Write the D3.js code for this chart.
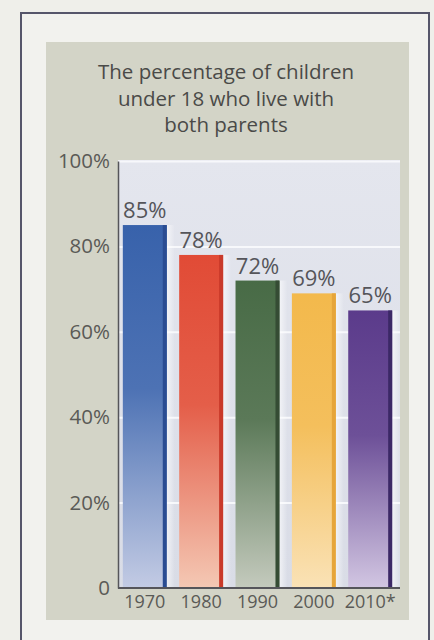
<!DOCTYPE html>
<html>
<head>
<meta charset="utf-8">
<script src="https://cdn.jsdelivr.net/npm/d3@7"></script>
<style>
  body { margin: 0; background: #efefea; }
  svg { display: block; }
  text { font-family: "Open Sans", "Noto Sans", sans-serif; }
</style>
</head>
<body>
<script>
var width = 434;
var height = 640;

// data
var years = ["1970", "1980", "1990", "2000", "2010*"];
var percents = [85, 78, 72, 69, 65];
var yTicks = [0, 20, 40, 60, 80, 100];
var titleLines = ["The percentage of children", "under 18 who live with", "both parents"];

var barTop = ["#3862ab", "#e14b36", "#486b46", "#f3b94c", "#5b3b8b"];
var barBottom = ["#c3cbe4", "#f4c8b4", "#c4cabd", "#fae2b6", "#d2c6e2"];
var barEdge = ["#2a4c92", "#c93a2a", "#354c34", "#e6a53a", "#3b2866"];

var svg = d3.select("body")
            .append("svg")
            .attr("width", width)
            .attr("height", height);

// outer frame and grey panel
svg.append("rect")
   .attr("x", 21).attr("y", 13)
   .attr("width", 408).attr("height", 640)
   .attr("fill", "#f2f2ee")
   .attr("stroke", "#56566a")
   .attr("stroke-width", 2);

svg.append("rect")
   .attr("x", 46).attr("y", 42)
   .attr("width", 363).attr("height", 578)
   .attr("fill", "#d3d4c7");

// title
svg.append("text")
   .attr("x", 226)
   .attr("y", 79)
   .attr("text-anchor", "middle")
   .attr("font-size", 20.5)
   .attr("fill", "#4a4a48")
   .selectAll("tspan")
   .data(titleLines)
   .enter()
   .append("tspan")
   .attr("x", 226)
   .attr("dy", function(d, i) { return i === 0 ? 0 : 26.5; })
   .text(function(d) { return d; });

var plotLeft = 118, plotRight = 400, plotTop = 160, plotBottom = 588;

var y = d3.scaleLinear()
          .domain([0, 100])
          .range([plotBottom, plotTop + 1]);

var x = d3.scaleBand()
          .domain(years)
          .range([120, 395])
          .paddingInner(0.22)
          .paddingOuter(0.05);

// plot background
var defs = svg.append("defs");
var bg = defs.append("linearGradient")
             .attr("id", "plotbg")
             .attr("x1", 0).attr("y1", 0).attr("x2", 0).attr("y2", 1);
bg.append("stop").attr("offset", 0).attr("stop-color", "#e4e6ee");
bg.append("stop").attr("offset", 1).attr("stop-color", "#d9dce6");

svg.append("rect")
   .attr("x", plotLeft).attr("y", plotTop)
   .attr("width", plotRight - plotLeft)
   .attr("height", plotBottom - plotTop)
   .attr("fill", "url(#plotbg)");

// gridlines
var grid = svg.append("g")
   .attr("transform", "translate(" + plotLeft + ",0)")
   .call(d3.axisLeft(y).tickValues(yTicks.slice(1)).tickSize(-(plotRight - plotLeft)).tickFormat(""));
grid.select(".domain").remove();
grid.selectAll("line").attr("stroke", "#f7f8fb").attr("stroke-width", 2);

// bar gradients
years.forEach(function(yr, i) {
    var g = defs.append("linearGradient")
                .attr("id", "bar" + i)
                .attr("x1", 0).attr("y1", 0).attr("x2", 0).attr("y2", 1);
    g.append("stop").attr("offset", 0).attr("stop-color", barTop[i]);
    g.append("stop").attr("offset", 0.45).attr("stop-color", d3.interpolateRgb(barTop[i], barBottom[i])(0.15));
    g.append("stop").attr("offset", 1).attr("stop-color", barBottom[i]);

    var h = defs.append("linearGradient")
                .attr("id", "glow" + i)
                .attr("x1", 0).attr("y1", 0).attr("x2", 1).attr("y2", 0);
    h.append("stop").attr("offset", 0).attr("stop-color", "#ffffff").attr("stop-opacity", 0.6);
    h.append("stop").attr("offset", 1).attr("stop-color", "#ffffff").attr("stop-opacity", 0);
});

var bars = svg.selectAll(".bar")
   .data(percents)
   .enter()
   .append("g")
   .attr("class", "bar");

// soft highlight to the right of each bar
bars.append("rect")
    .attr("x", function(d, i) { return x(years[i]) + x.bandwidth(); })
    .attr("y", function(d) { return y(d); })
    .attr("width", 8)
    .attr("height", function(d) { return plotBottom - y(d); })
    .attr("fill", function(d, i) { return "url(#glow" + i + ")"; });

bars.append("rect")
    .attr("x", function(d, i) { return x(years[i]); })
    .attr("y", function(d) { return y(d); })
    .attr("width", x.bandwidth())
    .attr("height", function(d) { return plotBottom - y(d); })
    .attr("fill", function(d, i) { return "url(#bar" + i + ")"; });

// darker right edge
bars.append("rect")
    .attr("x", function(d, i) { return x(years[i]) + x.bandwidth() - 4; })
    .attr("y", function(d) { return y(d); })
    .attr("width", 4)
    .attr("height", function(d) { return plotBottom - y(d); })
    .attr("fill", function(d, i) { return barEdge[i]; });

// value labels
bars.append("text")
    .attr("x", function(d, i) { return x(years[i]) + x.bandwidth() / 2; })
    .attr("y", function(d) { return y(d) - 7; })
    .attr("text-anchor", "middle")
    .attr("font-size", 22)
    .attr("fill", "#55555a")
    .text(function(d) { return d + "%"; });

// axes
var yAxis = svg.append("g")
   .attr("transform", "translate(" + plotLeft + ",0)")
   .call(d3.axisLeft(y)
           .tickValues(yTicks)
           .tickSize(0)
           .tickPadding(8)
           .tickFormat(function(d) { return d === 0 ? "0" : d + "%"; }));
yAxis.select(".domain").attr("stroke", "#55555a").attr("stroke-width", 1.5);
yAxis.selectAll("text")
     .attr("font-size", 20.5)
     .attr("fill", "#5a5a56")
     .style("font-family", "'Open Sans', sans-serif");

var xAxis = svg.append("g")
   .attr("transform", "translate(0," + plotBottom + ")")
   .call(d3.axisBottom(x).tickSize(0).tickPadding(7));
xAxis.select(".domain")
     .attr("d", "M" + plotLeft + ",0H" + plotRight)
     .attr("stroke", "#55555a")
     .attr("stroke-width", 2);
xAxis.selectAll("text")
     .attr("font-size", 18)
     .attr("fill", "#5a5a56")
     .style("font-family", "'Open Sans', sans-serif");
</script>
</body>
</html>
